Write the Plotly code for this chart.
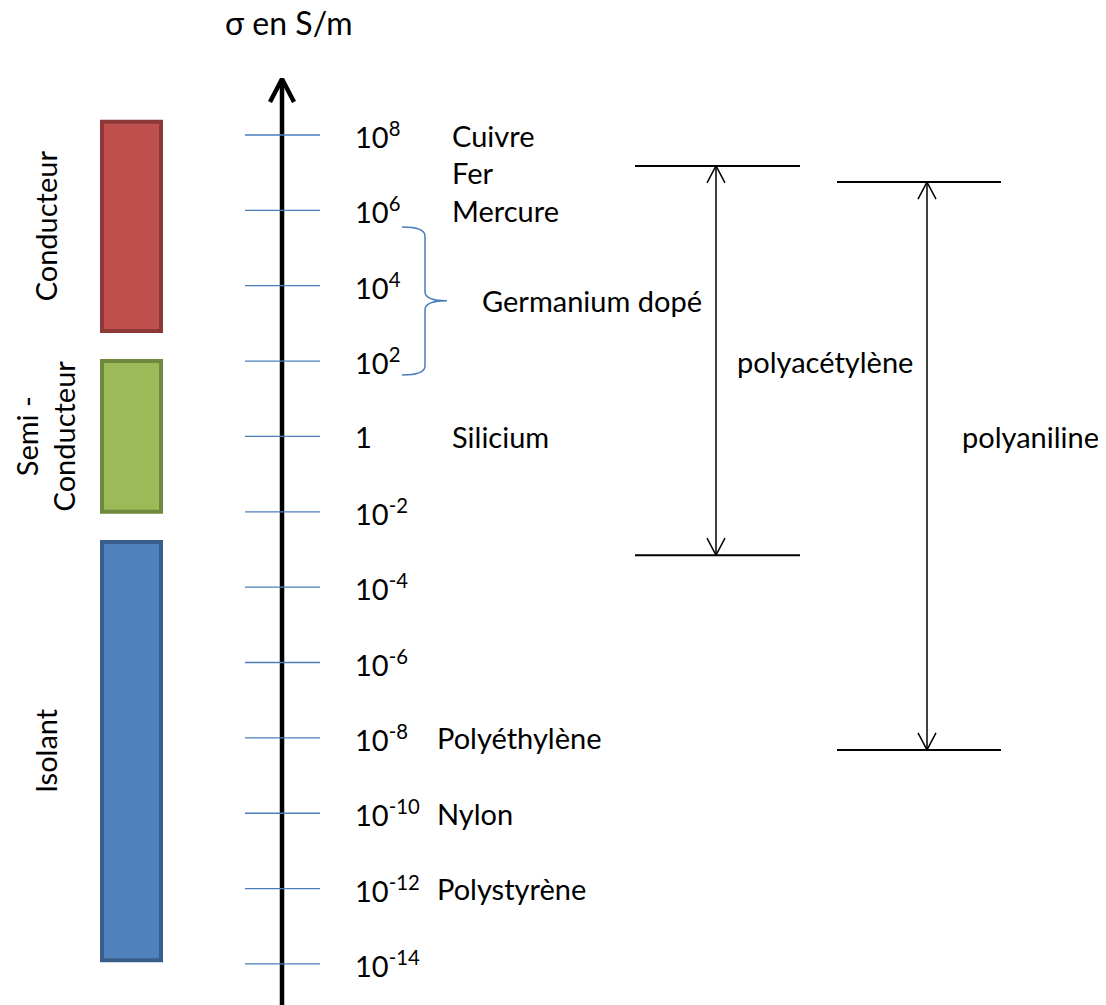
import plotly.graph_objects as go

# decade exponents shown on the axis
tick_exp = [8, 6, 4, 2, 0, -2, -4, -6, -8, -10, -12, -14]
tick_labels = ["10<sup>8</sup>", "10<sup>6</sup>", "10<sup>4</sup>", "10<sup>2</sup>", "1",
               "10<sup>-2</sup>", "10<sup>-4</sup>", "10<sup>-6</sup>", "10<sup>-8</sup>",
               "10<sup>-10</sup>", "10<sup>-12</sup>", "10<sup>-14</sup>"]

# materials placed next to the axis (log10 sigma)
upper_names = ["Cuivre", "Fer", "Mercure", "Silicium"]
upper_exp = [8, 7, 6, 0]
lower_names = ["Polyéthylène", "Nylon", "Polystyrène"]
lower_exp = [-8, -10, -12]

# classes (log10 sigma ranges)
class_names = ["Conducteur", "Semi -<br>Conducteur", "Isolant"]
class_low = [2.8, -2.0, -13.9]
class_high = [8.35, 2.0, -2.8]
class_fill = ["#c0504d", "#9bbb59", "#4f81bd"]
class_line = ["#8c3836", "#71893f", "#385d8a"]

germanium_range = [1.63, 5.56]
germanium_label = 3.6

polymer_names = ["polyacétylène", "polyaniline"]
polymer_low = [-3.15, -8.32]
polymer_high = [7.18, 6.75]
polymer_label_y = [2.0, 0.0]

PX = 37.68  # pixels per decade
Y0 = 8 + 135 / PX
Y1 = 8 - (1005 - 135) / PX
OFF = 8  # page body margin
FONT = "Lato"
FS = 29
BLUE = "#4a7ebb"

fig = go.Figure()


def line(xs, ys, color="black", width=1.5):
    fig.add_trace(go.Scatter(x=xs, y=ys, mode="lines", line=dict(color=color, width=width),
                             hoverinfo="skip", showlegend=False))


def chevron(x, y, up, dx, dy, width):
    s = -1 if up else 1
    line([x - dx, x, x + dx], [y + s * dy / PX, y, y + s * dy / PX], width=width)


def label(x, y, text, anchor="left", size=FS):
    fig.add_annotation(x=x, y=y, text=text, xanchor=anchor, yanchor="middle", showarrow=False,
                       font=dict(size=size))


# main axis
line([282, 282], [Y1, Y0 - 79 / PX], width=4.5)
chevron(282, Y0 - 79 / PX, True, 12, 23, 4.5)

# ticks and labels
for e, lab in zip(tick_exp, tick_labels):
    line([245, 320], [e, e], color=BLUE, width=1.3)
    label(353, e, lab)

for n, e in zip(upper_names, upper_exp):
    label(450, e, n)
for n, e in zip(lower_names, lower_exp):
    label(435, e, n)

# class bars
for name, lo, hi, fc, lc in zip(class_names, class_low, class_high, class_fill, class_line):
    fig.add_shape(type="rect", x0=102, x1=161, y0=lo, y1=hi, fillcolor=fc,
                  line=dict(color=lc, width=4), layer="above")
    fig.add_annotation(x=45, y=(lo + hi) / 2, text=name, textangle=-90, showarrow=False,
                       font=dict(size=FS), align="center")

# germanium brace
gl, gh = germanium_range
m, k = germanium_label, 9 / PX
path = (f"M 402,{gh} Q 425,{gh} 425,{gh - k} L 425,{m + k} Q 425,{m} 447,{m} "
        f"Q 425,{m} 425,{m - k} L 425,{gl + k} Q 425,{gl} 402,{gl}")
fig.add_shape(type="path", path=path, line=dict(color=BLUE, width=1.5))
label(480, m, "Germanium dopé")

# polymer ranges
xs = [(635, 800, 716), (837, 1001, 927)]
label_x = [735, 960]
for (xa, xb, xc), lo, hi, name, ly, lx in zip(xs, polymer_low, polymer_high, polymer_names,
                                              polymer_label_y, label_x):
    line([xa, xb], [hi, hi], width=2)
    line([xa, xb], [lo, lo], width=2)
    line([xc, xc], [lo, hi], width=1.5)
    chevron(xc, hi, True, 9, 17, 1.5)
    chevron(xc, lo, False, 9, 17, 1.5)
    label(lx, ly, name)

label(289, Y0 - 22 / PX, "σ en S/m", anchor="center", size=32)

fig.update_layout(width=1106 - OFF, height=1005 - OFF, margin=dict(l=0, r=0, t=0, b=0),
                  plot_bgcolor="white", paper_bgcolor="white",
                  font=dict(family=FONT, color="black"),
                  xaxis=dict(range=[OFF, 1106], visible=False, fixedrange=True),
                  yaxis=dict(range=[Y1, Y0 - OFF / PX], visible=False, fixedrange=True))

fig.write_html("out.html")
